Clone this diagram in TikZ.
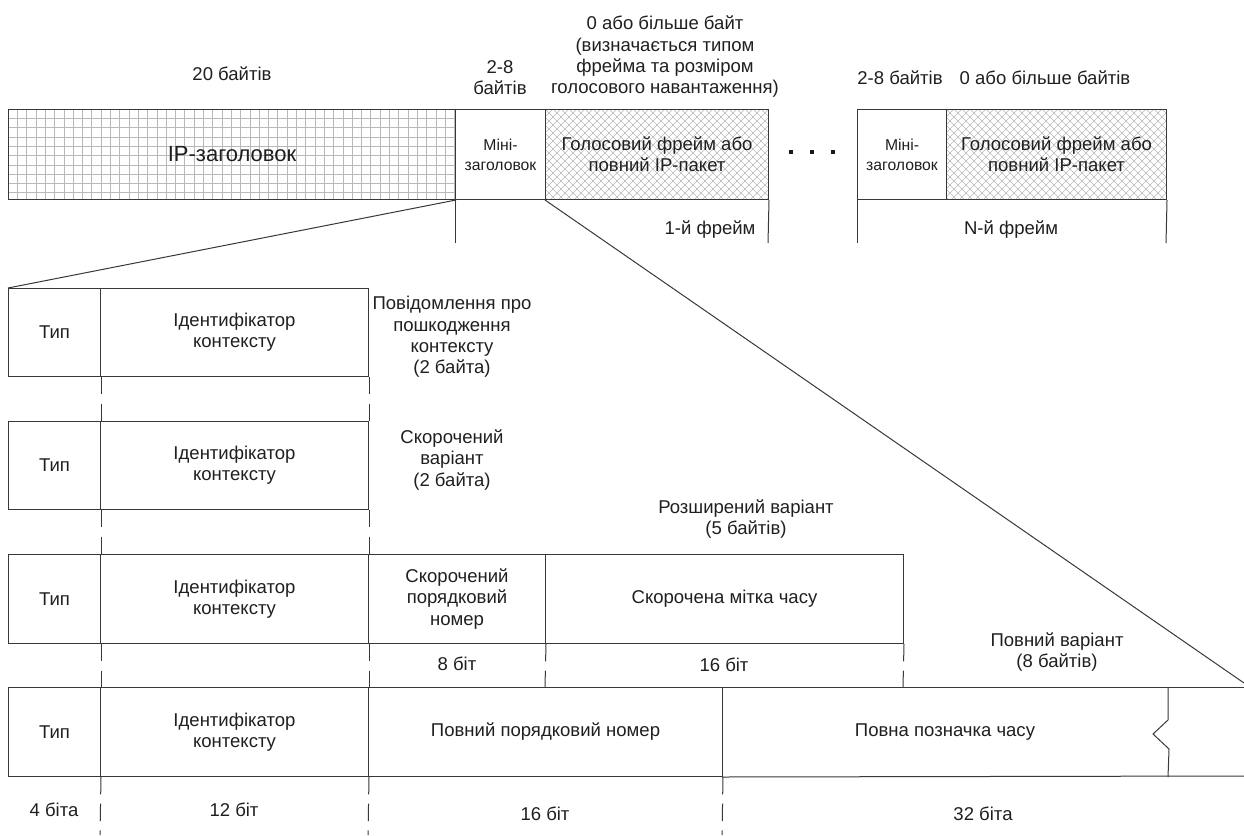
\documentclass[tikz,border=0pt]{standalone}
\usepackage{fontspec}
\setmainfont{Liberation Sans}
\newdimen\pxu
\pxu=0.75pt
\tikzset{
 ln/.style={line width=0.75pt, draw=black!78},
 txt/.style={font=\fontsize{13.9}{16}\selectfont, text=black!88},
 box/.style={ln, rectangle, inner sep=0pt, anchor=north west, align=center, txt},
 mini/.style={font=\fontsize{11.8}{15}\selectfont},
 big/.style={font=\fontsize{16.5}{19}\selectfont},
 lbl/.style={txt, align=center, inner sep=0pt},
 dsh/.style={ln, dash pattern=on 13pt off 7pt},
 hatch/.style={draw=black!28, line width=0.45pt},
 dotsq/.style={fill=black!90, minimum size=4\pxu, inner sep=0pt, rectangle},
}
\begin{document}
\begin{tikzpicture}[x=0.75pt,y=-0.75pt]
\useasboundingbox (0,0) rectangle (1244,835);
% --- fill patterns ---
\foreach \i in {1,...,48} {\draw[hatch] ({8+\i*9.3},109) -- ++(0,90);}
\foreach \j in {1,...,9} {\draw[hatch] (8,{109+\j*9.3}) -- ++(447,0);}
\begin{scope}
\clip (545,109) rectangle (768,199);
\foreach \i in {-12,...,40} {\draw[hatch] ({545+\i*8},109) -- ++(90,90); \draw[hatch] ({545+\i*8},109) -- ++(-90,90);}
\end{scope}
\begin{scope}
\clip (946,109) rectangle (1166,199);
\foreach \i in {-12,...,40} {\draw[hatch] ({946+\i*8},109) -- ++(90,90); \draw[hatch] ({946+\i*8},109) -- ++(-90,90);}
\end{scope}
% --- top row ---
\node[box, big, minimum width=447\pxu, minimum height=90\pxu] (ip) at (8,109) {IP-заголовок};
\node[box, mini, minimum width=90\pxu, minimum height=90\pxu] (m1) at (455,109) {Міні-\\заголовок};
\node[box, minimum width=223\pxu, minimum height=90\pxu] (v1) at (545,109) {Голосовий фрейм або\\повний IP-пакет};
\node[box, mini, minimum width=89\pxu, minimum height=90\pxu] (m2) at (857,109) {Міні-\\заголовок};
\node[box, minimum width=220\pxu, minimum height=90\pxu] (v2) at (946,109) {Голосовий фрейм або\\повний IP-пакет};
\node[dotsq] (d1) at (791,152) {};
\node[dotsq] (d2) at (812,152) {};
\node[dotsq] (d3) at (833,152) {};
% top labels
\node[lbl] (l20) at (232,74) {20 байтів};
\node[lbl] (l28) at (500,77.5) {2-8\\байтів};
\node[lbl] (l0) at (665,57) {0 або більше байт\\(визначається типом\\фрейма та розміром\\голосового навантаження)};
\node[lbl] (l28b) at (900,78) {2-8 байтів};
\node[lbl] (l0b) at (1045,78) {0 або більше байтів};
% frame markers
\coordinate (c1) at (455,243);
\coordinate (c2) at (768,243);
\coordinate (c3) at (857,243);
\coordinate (c4) at (1166,243);
\draw[ln] (m1.south west) -- (c1);
\draw[ln] (v1.south east) -- (c2);
\draw[ln] (m2.south west) -- (c3);
\draw[ln] (v2.south east) -- (c4);
\node[lbl] (f1) at (710,230) {1-й фрейм};
\node[lbl] (fn) at (1011,230) {N-й фрейм};
% --- row 1 ---
\node[box, minimum width=92\pxu, minimum height=88\pxu] (t1) at (8,288) {Тип};
\node[box, minimum width=268\pxu, minimum height=88\pxu] (i1) at (100,288) {Ідентифікатор\\контексту};
% --- row 2 ---
\node[box, minimum width=92\pxu, minimum height=88\pxu] (t2) at (8,421) {Тип};
\node[box, minimum width=268\pxu, minimum height=88\pxu] (i2) at (100,421) {Ідентифікатор\\контексту};
% --- row 3 ---
\node[box, minimum width=92\pxu, minimum height=89\pxu] (t3) at (8,554) {Тип};
\node[box, minimum width=268\pxu, minimum height=89\pxu] (i3) at (100,554) {Ідентифікатор\\контексту};
\node[box, minimum width=177\pxu, minimum height=89\pxu] (s3) at (368,554) {Скорочений\\порядковий\\номер};
\node[box, minimum width=358\pxu, minimum height=89\pxu] (m3) at (545,554) {Скорочена мітка часу};
% --- row 4 ---
\node[box, minimum width=92\pxu, minimum height=89\pxu] (t4) at (8,687) {Тип};
\node[box, minimum width=268\pxu, minimum height=89\pxu] (i4) at (100,687) {Ідентифікатор\\контексту};
\node[box, minimum width=354\pxu, minimum height=89\pxu] (s4) at (368,687) {Повний порядковий номер};
\node[box, draw=none, minimum width=445\pxu, minimum height=89\pxu] (p4) at (722,687) {Повна позначка часу};
\coordinate (r4t) at (1244,687);
\coordinate (r4b) at (1244,776);
\draw[ln] (p4.north west) -- (r4t);
\draw[ln] (p4.south west) -- (r4b);
\draw[ln] (p4.north east) -- ++(0,33) -- ++(-15,14) -- ++(16,15) -- (p4.south east);
% side labels
\node[lbl] (lb1) at (452,337) {Повідомлення про\\пошкодження\\контексту\\(2 байта)};
\node[lbl] (lb2) at (452,460) {Скорочений\\варіант\\(2 байта)};
\node[lbl] (lb3) at (746,519) {Розширений варіант\\(5 байтів)};
\node[lbl] (lb4) at (1057,652) {Повний варіант\\(8 байтів)};
\node[lbl] (b8) at (457,664) {8 біт};
\node[lbl] (b16a) at (724,665) {16 біт};
\node[lbl] (b4) at (54,810) {4 біта};
\node[lbl] (b12) at (234,810) {12 біт};
\node[lbl] (b16b) at (545,814) {16 біт};
\node[lbl] (b32) at (983,814) {32 біта};
% diagonals
\coordinate (rend) at (1244,683);
\draw[ln] (ip.south east) -- (t1.north west);
\draw[ln] (v1.south west) -- (rend);
% dashed guides
\draw[dsh] (t1.south east) -- (t2.north east);
\draw[dsh] (i1.south east) -- (i2.north east);
\draw[dsh] (t2.south east) -- (t3.north east);
\draw[dsh] (i2.south east) -- (i3.north east);
\draw[dsh] (t3.south east) -- (t4.north east);
\draw[dsh] (i3.south east) -- (i4.north east);
\coordinate (g1) at (545,687);
\coordinate (g2) at (903,687);
\draw[dsh] (s3.south east) -- (g1);
\draw[dsh] (m3.south east) -- (g2);
\coordinate (h1) at (100,835);
\coordinate (h2) at (368,835);
\coordinate (h3) at (722,835);
\draw[dsh] (t4.south east) -- (h1);
\draw[dsh] (i4.south east) -- (h2);
\draw[dsh] (s4.south east) -- (h3);
\end{tikzpicture}
\end{document}
